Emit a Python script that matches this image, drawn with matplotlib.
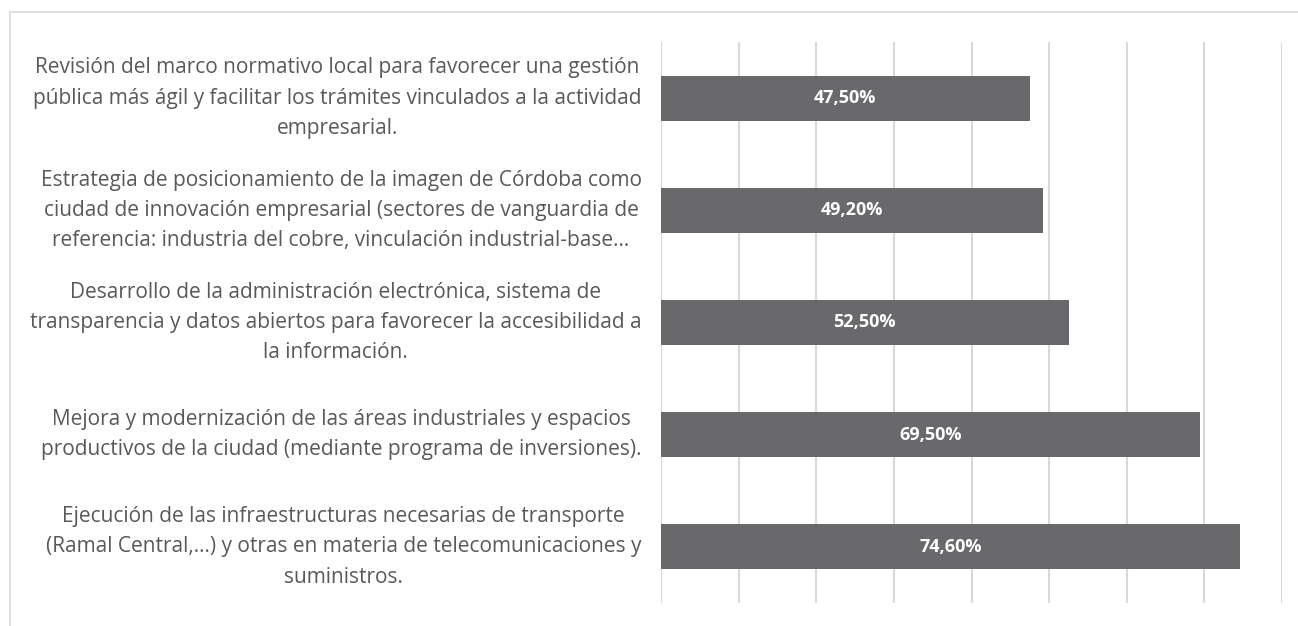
import matplotlib.pyplot as plt
from matplotlib.patches import Rectangle

categories = [
    "Revisión del marco normativo local para favorecer una gestión\n"
    "pública más ágil y facilitar los trámites vinculados a la actividad\n"
    "empresarial.",
    "Estrategia de posicionamiento de la imagen de Córdoba como\n"
    "ciudad de innovación empresarial (sectores de vanguardia de\n"
    "referencia: industria del cobre, vinculación industrial-base…",
    "Desarrollo de la administración electrónica, sistema de\n"
    "transparencia y datos abiertos para favorecer la accesibilidad a\n"
    "la información.",
    "Mejora y modernización de las áreas industriales y espacios\n"
    "productivos de la ciudad (mediante programa de inversiones).",
    "Ejecución de las infraestructuras necesarias de transporte\n"
    "(Ramal Central,...) y otras en materia de telecomunicaciones y\n"
    "suministros.",
]
values = [47.5, 49.2, 52.5, 69.5, 74.6]
value_labels = ["47,50%", "49,20%", "52,50%", "69,50%", "74,60%"]

plt.rcParams["font.family"] = ["Open Sans", "DejaVu Sans"]

W, H = 1298, 626
fig = plt.figure(figsize=(W / 100, H / 100), dpi=100)

# chart frame (only top and left edges fall inside the image)
fig.patches.append(Rectangle((10 / W, -0.1), 1.2, (H - 12) / H + 0.1,
                             transform=fig.transFigure, fill=False,
                             edgecolor="#d9d9d9", linewidth=1.2))

ax = fig.add_axes([661 / W, (H - 603) / H, (1282 - 661) / W, (603 - 42) / H])

y = list(range(len(values)))
ax.barh(y, values, height=0.4, color="#69696b", zorder=3)
for yi, v, lab in zip(y, values, value_labels):
    ax.text(v / 2, yi, lab, ha="center", va="center", color="white",
            fontsize=13, fontweight="bold", zorder=4)

ax.set_xlim(0, 80)
ax.set_ylim(len(values) - 0.5, -0.5)
ax.set_xticks(range(0, 81, 10))
ax.xaxis.grid(True, color="#d9d9d9", linewidth=1.5, zorder=0)
ax.tick_params(axis="x", length=0, labelbottom=False)
ax.tick_params(axis="y", length=0, pad=14)
ax.set_yticks(y)
ax.set_yticklabels(categories, fontsize=15, color="#595959",
                   multialignment="center", linespacing=1.57)
for lbl in ax.get_yticklabels():
    lbl.set_verticalalignment("center")
for s in ax.spines.values():
    s.set_visible(False)

fig.savefig("out.png", dpi=100)
